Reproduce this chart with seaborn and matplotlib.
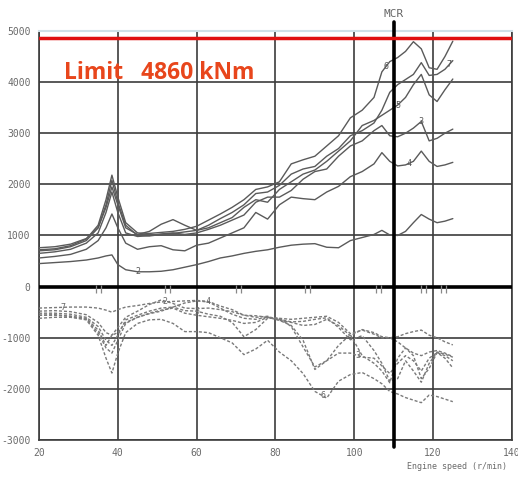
import numpy as np
import pandas as pd
import matplotlib
matplotlib.use("Agg")
import matplotlib.pyplot as plt
import seaborn as sns

# Engine speed sampling points (r/min)
rpm = [20, 24, 28, 32, 35, 37, 38.5, 40, 42, 45, 48, 51, 54, 57, 60, 63, 66, 69, 72, 75,
       78, 81, 84, 87, 90, 93, 96, 99, 102, 105, 107, 109, 111, 113, 115, 117, 119, 121, 123, 125]

# Torque envelope, positive side (kNm), one list per order
pos_6 = [720, 740, 800, 930, 1200, 1700, 2180, 1750, 1250, 1050, 1040, 1060, 1080, 1120, 1180, 1300, 1420, 1550, 1700, 1900,
         1950, 2050, 2400, 2480, 2550, 2750, 2950, 3300, 3450, 3700, 4200, 4400, 4480, 4600, 4790, 4650, 4280, 4250, 4500, 4800]
pos_7 = [700, 720, 780, 900, 1150, 1600, 2080, 1650, 1200, 1000, 990, 1020, 1040, 1070, 1100, 1200, 1330, 1450, 1600, 1820,
         1850, 1980, 2200, 2300, 2350, 2550, 2700, 2950, 3050, 3200, 3450, 3800, 3950, 4050, 4150, 4380, 4130, 4150, 4250, 4420]
pos_5 = [760, 780, 830, 940, 1150, 1550, 1950, 1600, 1150, 1020, 1080, 1220, 1310, 1200, 1100, 1150, 1250, 1350, 1550, 1700,
         1650, 1900, 2050, 2200, 2280, 2450, 2650, 2850, 3150, 3250, 3350, 3450, 3550, 3700, 3950, 4150, 3750, 3620, 3850, 4060]
pos_3 = [650, 680, 730, 850, 1050, 1450, 1850, 1450, 1050, 980, 1000, 1030, 1050, 1020, 1050, 1120, 1200, 1300, 1400, 1650,
         1750, 1750, 1880, 2100, 2250, 2300, 2550, 2750, 2850, 3050, 3150, 2950, 2930, 3000, 3100, 3230, 2850, 2900, 3000, 3080]
pos_4 = [560, 590, 630, 730, 900, 1150, 1420, 1150, 850, 730, 780, 800, 720, 700, 810, 850, 950, 1050, 1150, 1450,
         1320, 1600, 1750, 1720, 1700, 1850, 1960, 2150, 2250, 2400, 2620, 2450, 2360, 2380, 2450, 2650, 2450, 2350, 2380, 2430]
pos_2 = [450, 470, 490, 520, 560, 600, 620, 430, 330, 290, 290, 300, 330, 380, 430, 490, 560, 600, 650, 690,
         720, 770, 810, 830, 840, 770, 760, 900, 960, 1020, 1100, 1010, 1000, 1080, 1250, 1410, 1320, 1250, 1280, 1330]

# Torque envelope, negative side (kNm)
neg_7 = [-420, -410, -400, -400, -420, -460, -500, -450, -400, -370, -330, -300, -290, -280, -270, -290, -380, -450, -560, -570,
         -600, -620, -640, -620, -600, -580, -700, -920, -850, -930, -1000, -1000, -980, -920, -880, -850, -950, -1000, -1080, -1140]
neg_2 = [-480, -470, -490, -550, -700, -900, -950, -800, -600, -480, -350, -260, -330, -420, -430, -420, -450, -490, -560, -600,
         -580, -660, -700, -760, -740, -640, -760, -960, -840, -900, -980, -1000, -1080, -1200, -1300, -1350, -1280, -1250, -1300, -1370]
neg_4 = [-520, -520, -540, -600, -780, -1050, -1150, -950, -650, -560, -480, -420, -400, -320, -280, -300, -420, -540, -620, -640,
         -600, -640, -690, -680, -640, -610, -800, -1040, -960, -1250, -1500, -1850, -1800, -1450, -1650, -1870, -1500, -1280, -1320, -1380]
neg_5 = [-560, -560, -580, -620, -850, -1150, -950, -900, -700, -600, -530, -480, -400, -470, -480, -540, -580, -700, -980, -840,
         -620, -620, -780, -1180, -1570, -1450, -1150, -940, -1350, -1500, -1650, -1880, -1400, -1200, -1350, -1800, -1600, -1290, -1400, -1590]
neg_3 = [-560, -550, -580, -640, -900, -1200, -1300, -1050, -720, -600, -520, -460, -420, -520, -560, -590, -620, -660, -720, -700,
         -600, -660, -760, -1050, -1620, -1450, -1300, -1300, -1380, -1400, -1550, -1700, -1500, -1350, -1450, -1650, -1400, -1290, -1350, -1450]
neg_6 = [-620, -600, -600, -650, -950, -1400, -1690, -1300, -900, -720, -650, -640, -720, -880, -880, -900, -1000, -1100, -1330, -1220,
         -1050, -1280, -1450, -1700, -2050, -2180, -1850, -1720, -1680, -1800, -1900, -2050, -2100, -2170, -2220, -2270, -2120, -2150, -2200, -2250]

# Where each order number is written along its curve (r/min)
label_pos = {"6": 108, "7": 124, "5": 111, "3": 117, "4": 114, "2": 45}
label_neg = {"7": 26, "2": 52, "4": 63, "5": 60, "3": 101, "6": 92}

# Barred speed range markers on the zero line (pairs of ticks)
barred = [34.5, 35.8, 52, 53.3, 70, 71.3, 87.5, 88.8, 105.5, 106.8, 117, 118.3, 122, 123.3]

limit = 4860
mcr = 110

pos = {"6": pos_6, "7": pos_7, "5": pos_5, "3": pos_3, "4": pos_4, "2": pos_2}
neg = {"7": neg_7, "2": neg_2, "4": neg_4, "5": neg_5, "3": neg_3, "6": neg_6}

def long_form(curves, side):
    frames = []
    for order, vals in curves.items():
        frames.append(pd.DataFrame({"rpm": rpm, "torque": vals,
                                    "curve": f"{side}{order}"}))
    return pd.concat(frames, ignore_index=True)

df_pos = long_form(pos, "p")
df_neg = long_form(neg, "n")

sns.set_style("white")
plt.rcParams["axes.unicode_minus"] = False
plt.rcParams["font.family"] = ["DejaVu Sans Mono", "DejaVu Sans"]

fig = plt.figure(figsize=(5.18, 4.79), dpi=100)
ax = fig.add_axes([0.0753, 0.0814, 0.913, 0.854])

grid_c = "#3c3c3c"
ax.set_xlim(20, 140)
ax.set_ylim(-3000, 5000)
ax.set_xticks(range(20, 141, 20))
ax.set_yticks(range(-3000, 5001, 1000))
ax.grid(True, color=grid_c, lw=1.2, zorder=0)
for side in ("left", "bottom", "right"):
    ax.spines[side].set_color(grid_c)
    ax.spines[side].set_linewidth(1.2)
ax.spines["top"].set_color("#cfe0e8")
ax.spines["top"].set_linewidth(1.5)
ax.tick_params(length=4, width=1, color="#777777", labelcolor="#6a6a6a",
               labelsize=7, pad=2)

sns.lineplot(data=df_pos, x="rpm", y="torque", units="curve", estimator=None,
             sort=False, color="#5a5a5a", lw=1.0, ax=ax, zorder=3)
sns.lineplot(data=df_neg, x="rpm", y="torque", units="curve", estimator=None,
             sort=False, color="#7a7a7a", lw=1.0, ax=ax, zorder=3,
             linestyle=(0, (2.2, 1.4)))
ax.set_xlabel("")
ax.set_ylabel("")

for order, x in label_pos.items():
    ax.text(x, np.interp(x, rpm, pos[order]), order, fontsize=6, color="#555555",
            ha="center", va="center", zorder=4)
for order, x in label_neg.items():
    ax.text(x, np.interp(x, rpm, neg[order]), order, fontsize=6, color="#666666",
            ha="center", va="center", zorder=4)

# Zero line, MCR line and the limit line
ax.axhline(0, color="black", lw=2.6, zorder=5)
ax.plot(barred, [-40] * len(barred), ls="none", marker="|", ms=6, mew=0.9,
        color="#888888", zorder=6)
ax.axvline(mcr, ymin=-0.018, ymax=1.022, color="black", lw=2.6, zorder=5, clip_on=False)
ax.text(mcr, 5230, "MCR", fontsize=8, color="#666666", ha="center", va="bottom")
ax.axhline(limit, color="#e01010", lw=2.5, zorder=6)
ax.text(26.3, 4180, f"Limit   {limit} kNm", fontsize=16.5, fontweight="bold",
        color="#e8461c", family="Open Sans", ha="left", va="center", zorder=7)

fig.text(0.978, 0.027, "Engine speed (r/min)", fontsize=6, color="#6a6a6a",
         ha="right", va="center")

fig.savefig("out.png", dpi=100, facecolor="white")
